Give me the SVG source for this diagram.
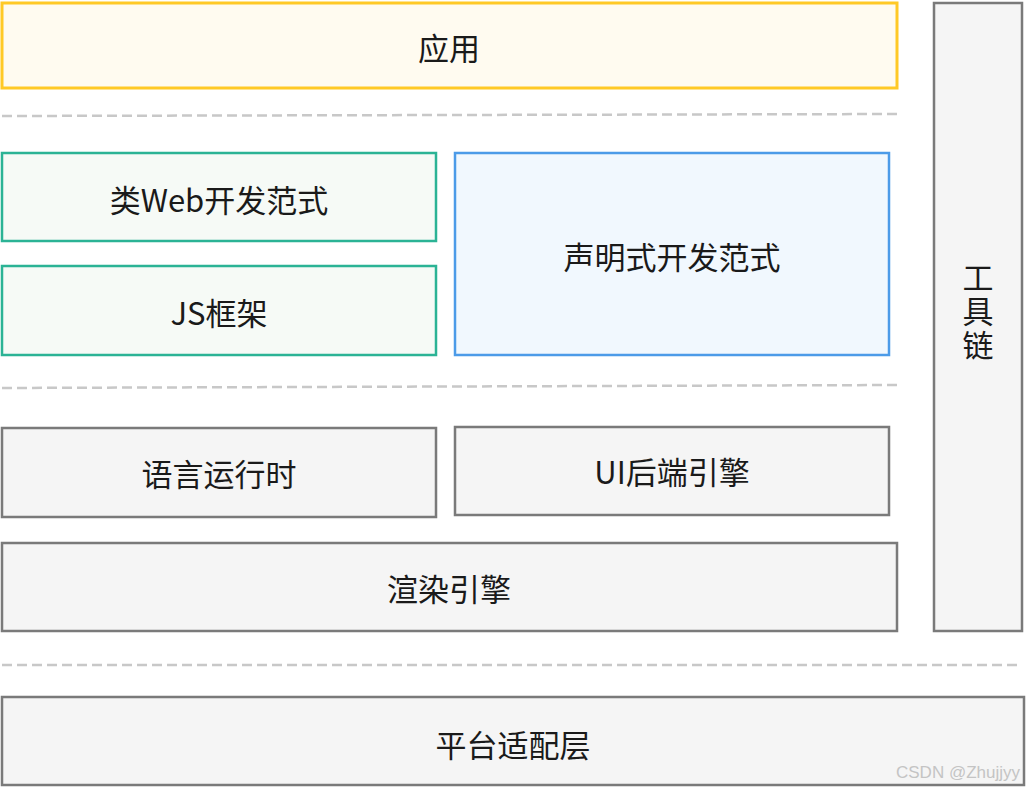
<svg xmlns="http://www.w3.org/2000/svg" width="1028" height="790" viewBox="0 0 1028 790">
<style>
text{font-family:"Noto Sans CJK SC","Liberation Sans",sans-serif;font-size:31px;fill:#1a1a1a;text-anchor:middle;dominant-baseline:central}
.v{writing-mode:vertical-rl;dominant-baseline:auto;letter-spacing:3px}
.g{fill:#f5f5f5;stroke:#7a7a7a;stroke-width:2.5}
.d{stroke:#c8c8c8;stroke-width:2.5;stroke-dasharray:10,5;fill:none}
</style>
<rect width="1028" height="790" fill="#fff"/>
<g id="connectors">
<line class="d" x1="2" y1="116" x2="898" y2="114"/>
<line class="d" x1="2" y1="388" x2="898" y2="385"/>
<line class="d" x1="2" y1="665" x2="1022" y2="665"/>
</g>
<g id="app"><rect x="2" y="3" width="895" height="85" fill="#fffbf0" stroke="#ffc926" stroke-width="3"/><text x="449" y="46">应用</text></g>
<g id="web"><rect x="2" y="153" width="434" height="88" fill="#f6faf6" stroke="#2bb395" stroke-width="2.5"/><text x="219" y="198">类Web开发范式</text></g>
<g id="js"><rect x="2" y="266" width="434" height="89" fill="#f6faf6" stroke="#2bb395" stroke-width="2.5"/><text x="219" y="311">JS框架</text></g>
<g id="decl"><rect x="455" y="153" width="434" height="202" fill="#f1f8fe" stroke="#4c9be8" stroke-width="2.5"/><text x="672" y="255">声明式开发范式</text></g>
<g id="tool"><rect x="934" y="3" width="88" height="628" class="g"/><text class="v" x="978" y="313">工具链</text></g>
<g id="lang"><rect x="2" y="428" width="434" height="89" class="g"/><text x="219" y="472">语言运行时</text></g>
<g id="ui"><rect x="455" y="427" width="434" height="88" class="g"/><text x="672" y="470">UI后端引擎</text></g>
<g id="render"><rect x="2" y="543" width="895" height="88" class="g"/><text x="449" y="587">渲染引擎</text></g>
<g id="platform"><rect x="2" y="697" width="1022" height="88" class="g"/><text x="513" y="743">平台适配层</text></g>
<text x="958" y="772" style="font-size:17px;fill:#c4c4c4;font-family:'Liberation Sans',sans-serif">CSDN @Zhujjyy</text>
</svg>
